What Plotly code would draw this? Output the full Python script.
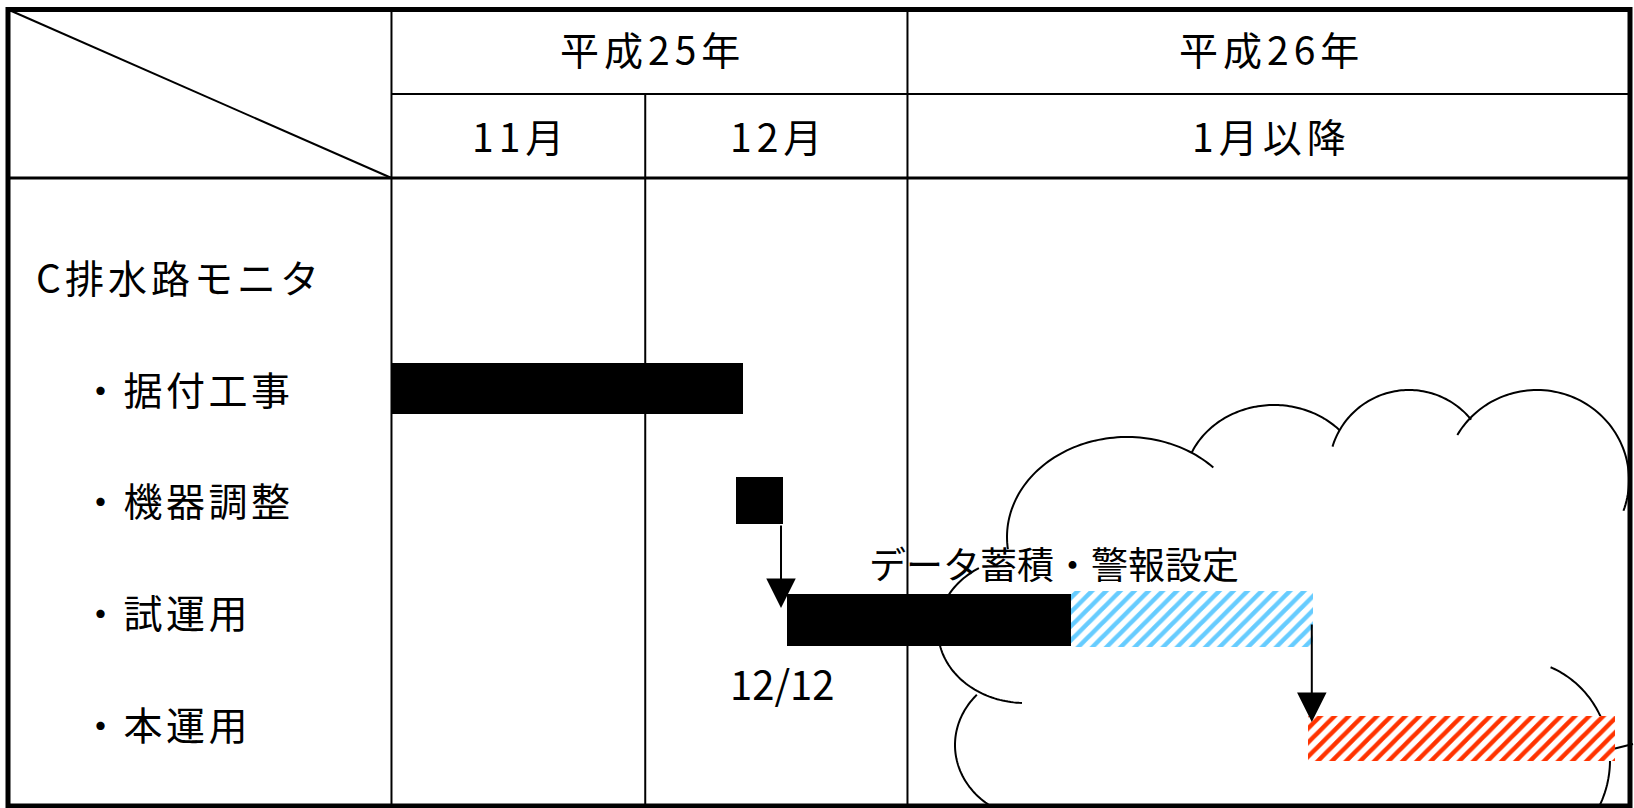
import numpy as np
import plotly.graph_objects as go

# ------------------------------------------------------------------ data
# x unit: days counted from 2013-11-01 (平成25年11月1日)
year_labels = ["平成25年", "平成26年"]
year_start_day = [0, 61]
month_labels = ["11月", "12月", "1月以降"]
month_start_day = [0, 30, 61]

group_label = "C排水路モニタ"
task_labels = ["・据付工事", "・機器調整", "・試運用", "・本運用"]

# solid (black) bars
solid_tasks = ["・据付工事", "・機器調整", "・試運用"]
solid_start = [0.0, 40.7, 46.8]
solid_end = [41.5, 46.25, 80.3]

# hatched phase: data accumulation / alarm setting (part of 試運用)
accum_tasks = ["・試運用"]
accum_start = [80.3]
accum_end = [108.9]
accum_label = "データ蓄積・警報設定"

# hatched phase: 本運用
main_tasks = ["・本運用"]
main_start = [108.4]
main_end = [144.7]

milestone_label = "12/12"

# ------------------------------------------------------------------ layout helpers
W, H = 1634, 808
X_RANGE = [-46.28, 146.89]          # days shown across the full width
Y_TOP, Y_BOT = -2.4709, 4.7628       # row units (reversed axis)
FONT = "Noto Sans CJK JP"


def px2x(px):
    return X_RANGE[0] + px / W * (X_RANGE[1] - X_RANGE[0])


def py2y(py):
    return Y_TOP + py / H * (Y_BOT - Y_TOP)


row_of = {lab: i + 1 for i, lab in enumerate(task_labels)}

# bar styling (thickness and small vertical nudges, in row units)
solid_width = [0.457, 0.421, 0.472]
solid_shift = [0.007, 0.010, 0.080]
accum_width, accum_shift = [0.501], [0.070]
main_width, main_shift = [0.403], [0.140]


def offs(widths, shifts):
    return [-w / 2 + s for w, s in zip(widths, shifts)]


fig = go.Figure()

# black bars
fig.add_trace(go.Bar(
    orientation="h",
    y=[row_of[t] for t in solid_tasks],
    base=solid_start,
    x=[e - s for s, e in zip(solid_start, solid_end)],
    width=solid_width, offset=offs(solid_width, solid_shift),
    marker=dict(color="black", line=dict(width=0)),
    showlegend=False, hoverinfo="skip",
))
# blue hatched
fig.add_trace(go.Bar(
    orientation="h",
    y=[row_of[t] for t in accum_tasks],
    base=accum_start,
    x=[e - s for s, e in zip(accum_start, accum_end)],
    width=accum_width, offset=offs(accum_width, accum_shift),
    marker=dict(color="white", line=dict(width=0),
                pattern=dict(shape="/", fgcolor="#66CCFF", bgcolor="white",
                             size=10, solidity=0.45, fillmode="replace")),
    showlegend=False, hoverinfo="skip",
))
# red hatched
fig.add_trace(go.Bar(
    orientation="h",
    y=[row_of[t] for t in main_tasks],
    base=main_start,
    x=[e - s for s, e in zip(main_start, main_end)],
    width=main_width, offset=offs(main_width, main_shift),
    marker=dict(color="white", line=dict(width=0),
                pattern=dict(shape="/", fgcolor="#FF3300", bgcolor="white",
                             size=10, solidity=0.45, fillmode="replace")),
    showlegend=False, hoverinfo="skip",
))

shapes = []

# ---- cloud outline (decorative), arcs of ellipses: center px, radii px, angles deg
cloud_arcs = [
    (1127, 537, 120, 100, 173, 316),
    (1274, 485, 90, 80, 204, 317),
    (1409, 470, 80, 80, 197, 321),
    (1537, 480, 92, 90, 210, 380),
    (1025, 630, 87, 73, 238, 92),
    (1040, 745, 85, 75, 222, 115),
    (1515, 760, 95, 100, 292, 392),
]
for cx, cy, rx, ry, a0, a1 in cloud_arcs:
    t = np.radians(np.linspace(a0, a1, 80))
    xs = px2x(cx + rx * np.cos(t))
    ys = py2y(cy + ry * np.sin(t))
    path = "M " + " L ".join(f"{a:.4f},{b:.4f}" for a, b in zip(xs, ys))
    shapes.append(dict(type="path", path=path, xref="x", yref="y",
                       line=dict(color="black", width=2), layer="below"))
shapes.append(dict(type="line", xref="x", yref="y", x0=px2x(1609), y0=py2y(750),
                   x1=px2x(1633), y1=py2y(744), line=dict(color="black", width=2),
                   layer="below"))

# ---- table grid
LEFT, RIGHT, TOP, BOT = px2x(8), px2x(1630), py2y(9.5), py2y(806)
HDR1, HDR2 = py2y(94), py2y(178)
RIGHT_DAY = RIGHT


def line(x0, y0, x1, y1, w=2):
    shapes.append(dict(type="line", xref="x", yref="y", x0=x0, y0=y0, x1=x1, y1=y1,
                       line=dict(color="black", width=w), layer="above"))


line(month_start_day[0], TOP, month_start_day[0], BOT)
line(month_start_day[1], HDR1, month_start_day[1], BOT)
line(month_start_day[2], TOP, month_start_day[2], BOT)
line(month_start_day[0], HDR1, RIGHT, HDR1)
line(LEFT, HDR2, RIGHT, HDR2, 3)
line(LEFT, TOP, month_start_day[0], HDR2, 2)
shapes.append(dict(type="rect", xref="x", yref="y", x0=LEFT, x1=RIGHT, y0=TOP, y1=BOT,
                   line=dict(color="black", width=5), layer="above"))

annotations = []


def text(x, y, s, size=39, xanchor="center", xref="x", spacing=0):
    if spacing:
        s = f'<span style="letter-spacing:{spacing}px">{s}</span>'
    annotations.append(dict(x=x, y=y, xref=xref, yref="y", text=s, showarrow=False,
                            xanchor=xanchor, yanchor="middle",
                            font=dict(family=FONT, size=size, color="black")))


# header texts
year_edges = year_start_day + [RIGHT_DAY]
for i, lab in enumerate(year_labels):
    text((year_edges[i] + year_edges[i + 1]) / 2 + 0.3, py2y(48), lab, spacing=5)
month_edges = month_start_day + [RIGHT_DAY]
for i, lab in enumerate(month_labels):
    text((month_edges[i] + month_edges[i + 1]) / 2 + 0.3, py2y(135), lab, spacing=5)

# row labels
text(34 / W, 0, group_label, xanchor="left", xref="paper", spacing=4)
for lab in task_labels:
    text(79 / W, row_of[lab], lab, xanchor="left", xref="paper", spacing=3.5)

# phase labels
text(px2x(1054), py2y(563), accum_label, size=37)
text(px2x(782), py2y(683), milestone_label, size=40)

# arrows (connectors between phases)
ki = solid_tasks.index("・機器調整")
annotations.append(dict(x=solid_end[ki] - 0.2, y=py2y(608),
                        ax=solid_end[ki] - 0.2, ay=py2y(524),
                        xref="x", yref="y", axref="x", ayref="y", text="",
                        showarrow=True, arrowhead=2, arrowsize=2.95, arrowwidth=2,
                        arrowcolor="black", standoff=0))
annotations.append(dict(x=accum_end[0] - 0.1, y=py2y(722),
                        ax=accum_end[0] - 0.1, ay=py2y(623),
                        xref="x", yref="y", axref="x", ayref="y", text="",
                        showarrow=True, arrowhead=2, arrowsize=2.95, arrowwidth=2,
                        arrowcolor="black", standoff=0))

fig.update_layout(
    width=W, height=H,
    margin=dict(l=0, r=0, t=0, b=0),
    paper_bgcolor="white", plot_bgcolor="white",
    barmode="overlay", bargap=0,
    xaxis=dict(range=X_RANGE, visible=False, fixedrange=True),
    yaxis=dict(range=[Y_BOT, Y_TOP], visible=False, fixedrange=True),
    shapes=shapes, annotations=annotations,
    showlegend=False,
)

fig.write_html("out.html", config={"displayModeBar": False},
               post_script="document.body.style.margin='0';document.body.style.overflow='hidden';")
